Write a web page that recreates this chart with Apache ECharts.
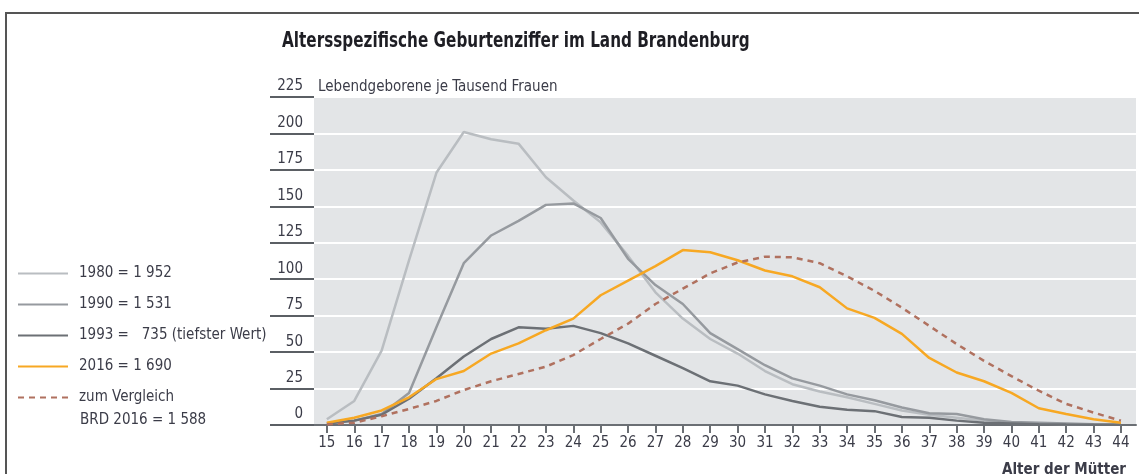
<!DOCTYPE html>
<html>
<head>
<meta charset="utf-8">
<script src="https://cdn.jsdelivr.net/npm/echarts@6/dist/echarts.min.js"></script>
<style>
  html, body { margin: 0; padding: 0; background: #fff; }
  #chart { width: 1139px; height: 474px; }
</style>
</head>
<body>
<div id="chart"></div>
<script>
const ages = [15, 16, 17, 18, 19, 20, 21, 22, 23, 24, 25, 26, 27, 28, 29, 30, 31, 32, 33, 34, 35, 36, 37, 38, 39, 40, 41, 42, 43, 44]
const yTicks = [0, 25, 50, 75, 100, 125, 150, 175, 200, 225]

const y1980 = [4, 16.5, 51, 113, 173, 201, 196, 193, 170, 154, 139, 116, 91, 73, 59, 49, 37, 28, 23, 19, 14.5, 10, 7, 5, 3, 1.5, 1, 0.5, 0.3, 0.2]
const y1990 = [1, 3, 7.5, 22, 67, 111, 130, 140, 151, 152, 142, 114, 96, 83, 63, 52, 41, 32, 27, 21, 17, 12, 8, 7.5, 4, 2, 1.5, 1, 0.5, 0.3]
const y1993 = [1, 3, 7, 18, 32, 47, 59, 67, 66, 68, 63, 56, 47.5, 39, 30, 27, 21, 16.5, 12.5, 10.5, 9.5, 5.5, 5, 3, 1.5, 1, 0.5, 0.3, 0.2, 0.1]
const y2016 = [1.5, 5, 10, 19, 31.5, 37, 49, 56, 65, 73, 89, 99, 109, 120, 118.5, 113, 106, 102, 94.5, 80, 73.5, 62.5, 46, 36, 30, 22, 11.5, 7.5, 4, 1.5]
const yBRD = [0.5, 1.5, 6, 11, 16.5, 24, 30, 35, 40, 48, 59, 69.5, 83, 93.5, 104, 111.5, 115.5, 115, 111, 102, 92, 80.5, 68, 55.5, 44, 33.5, 23.5, 14.5, 8.5, 3]

const names = ['1980 = 1 952', '1990 = 1 531', '1993 =   735 (tiefster Wert)', '2016 = 1 690', 'zum Vergleich']

const font = "'Liberation Sans Narrow', 'DejaVu Sans Condensed', 'Noto Sans', sans-serif"
const textColor = '#3b3c48'

const pairs = arr => ages.map((a, i) => [a, arr[i]])

const chart = echarts.init(document.getElementById('chart'))

function line(name, data, color, type) {
  return {
    name: name,
    type: 'line',
    data: pairs(data),
    symbol: 'none',
    lineStyle: { color: color, width: 2.5, type: type || 'solid' },
    itemStyle: { color: color },
    z: 3
  }
}

const option = {
  animation: false,
  textStyle: { fontFamily: font },
  title: [
    {
      text: 'Lebendgeborene je Tausend Frauen',
      left: 313, top: 75,
      textStyle: { fontFamily: font, fontSize: 15, fontWeight: 'normal', color: textColor }
    },
    {
      text: 'BRD 2016 = 1 588',
      left: 75, top: 408,
      textStyle: { fontFamily: font, fontSize: 15, fontWeight: 'normal', color: textColor }
    },
    {
      text: 'Alter der Mütter',
      right: 8, top: 458,
      textStyle: { fontFamily: font, fontSize: 15, fontWeight: 'bold', color: textColor }
    }
  ],
  graphic: [
    {
      type: 'polyline',
      shape: { points: [[6, 474], [6, 13], [1139, 13]] },
      style: { stroke: '#555', lineWidth: 2, fill: null }
    },
    {
      type: 'text',
      x: 282, y: 30, scaleX: 0.77,
      style: {
        text: 'Altersspezifische Geburtenziffer im Land Brandenburg',
        font: "bold 22px " + font, fill: '#1e1e24'
      }
    }
  ],
  legend: {
    orient: 'vertical',
    left: 12, top: 261,
    itemWidth: 50, itemHeight: 14, itemGap: 16,
    data: names,
    itemStyle: { opacity: 0 },
    textStyle: { fontFamily: font, fontSize: 15, color: textColor, padding: [0, 0, 0, 6] }
  },
  grid: {
    left: 314, right: 3, top: 97, bottom: 49,
    show: true, backgroundColor: '#e3e5e7', borderWidth: 0
  },
  xAxis: {
    type: 'value',
    min: 14.53, max: 44.55,
    axisLine: { show: true, lineStyle: { color: '#6b6f74', width: 2 } },
    axisTick: { show: true, customValues: ages, length: 8, lineStyle: { color: '#6b6f74', width: 2 } },
    axisLabel: {
      customValues: ages, margin: 11,
      fontFamily: font, fontSize: 15, color: textColor
    },
    splitLine: { show: false }
  },
  yAxis: {
    type: 'value',
    min: 0, max: 225, interval: 25,
    axisLine: { show: false },
    axisTick: { show: true, length: 44, lineStyle: { color: '#5b5f64', width: 2 } },
    axisLabel: {
      margin: 11, verticalAlign: 'bottom', padding: [0, 0, 3, 0],
      fontFamily: font, fontSize: 15, color: textColor,
      formatter: v => yTicks.includes(v) ? String(v) : ''
    },
    splitLine: { show: true, lineStyle: { color: '#ffffff', width: 2 } }
  },
  series: [
    line(names[0], y1980, '#b9bdc1'),
    line(names[1], y1990, '#969a9f'),
    line(names[2], y1993, '#6c7075'),
    line(names[3], y2016, '#f7a823'),
    line(names[4], yBRD, '#b0715f', [6, 5])
  ]
}

chart.setOption(option)
</script>
</body>
</html>
